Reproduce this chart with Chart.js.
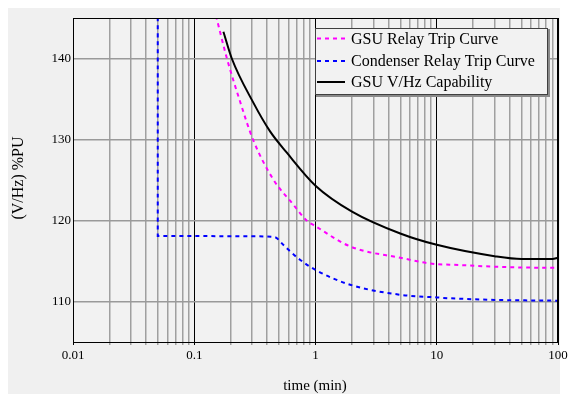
<!DOCTYPE html>
<html>
<head>
<meta charset="utf-8">
<script src="https://cdn.jsdelivr.net/npm/chart.js@4/dist/chart.umd.min.js"></script>
<style>
  html, body { margin: 0; padding: 0; background: #fff; }
  #wrap { width: 571px; height: 394px; }
</style>
</head>
<body>
<div id="wrap"><canvas id="vhzChart" width="571" height="394"></canvas></div>
<script>
// series (time in minutes, V/Hz in %PU)
const gsuRelayTime = [0.151, 0.186, 0.238, 0.305, 0.449, 0.656, 0.845, 1, 1.93, 5, 10, 12.8, 30, 50, 100];
const gsuRelayVhz  = [145.3, 140, 134.75, 130, 125.06, 121.97, 120, 119.3, 116.8, 115.4, 114.6, 114.55, 114.3, 114.2, 114.15];

const condRelayTime = [0.05, 0.05, 0.288, 0.46, 0.542, 0.617, 0.745, 1, 1.93, 5, 10, 12.8, 30, 100];
const condRelayVhz  = [150, 118.1, 118.05, 117.95, 117.0, 116.2, 115.16, 113.9, 112.07, 110.83, 110.5, 110.4, 110.2, 110.1];

const gsuCapTime = [0.174, 0.204, 0.307, 0.422, 0.578, 1, 2, 5, 10, 30, 50, 90, 100];
const gsuCapVhz  = [143.3, 140, 134.55, 131.0, 128.4, 124.3, 121.1, 118.4, 117.0, 115.6, 115.25, 115.25, 115.4];

const seriesLabels = ['GSU Relay Trip Curve', 'Condenser Relay Trip Curve', 'GSU V/Hz Capability'];

const xTickValues = [0.01, 0.1, 1, 10, 100];
const xTickLabels = ['0.01', '0.1', '1', '10', '100'];
const yTickValues = [110, 120, 130, 140];

const SERIF = '"Liberation Serif", "Times New Roman", serif';

function toPoints(xs, ys) {
  return xs.map((x, i) => ({ x: x, y: ys[i] }));
}

function isDecade(v) {
  const l = Math.log10(v);
  return Math.abs(l - Math.round(l)) < 1e-9;
}

// gray page panel + plot background
const panelPlugin = {
  id: 'panel',
  beforeDraw(chart) {
    const c = chart.ctx;
    const a = chart.chartArea;
    c.save();
    c.fillStyle = '#ffffff';
    c.fillRect(0, 0, chart.width, chart.height);
    c.fillStyle = '#f0f0f0';
    c.fillRect(8, 8, 552, chart.height - 8);
    c.fillStyle = '#f2f2f2';
    c.fillRect(a.left, a.top, a.right - a.left, a.bottom - a.top);
    c.restore();
  }
};

// frame, axis titles and the boxed legend inside the plot
const decorPlugin = {
  id: 'decor',
  afterDraw(chart) {
    const c = chart.ctx;
    const a = chart.chartArea;
    c.save();
    c.strokeStyle = '#000';
    c.lineWidth = 1;
    c.strokeRect(Math.round(a.left) + 0.5, Math.round(a.top) + 0.5,
      Math.round(a.right - a.left) - 1, Math.round(a.bottom - a.top));

    c.fillStyle = '#000';
    c.font = '15px ' + SERIF;
    c.textAlign = 'center';
    c.textBaseline = 'middle';
    c.fillText('time (min)', 315, 386);

    c.save();
    c.translate(19, 178);
    c.rotate(-Math.PI / 2);
    c.font = '16px ' + SERIF;
    c.fillText('(V/Hz) %PU', 0, 0);
    c.restore();

    // legend box
    const bx = 315, by = 28, bw = 233, bh = 67;
    c.fillStyle = '#8a8a8a';
    c.fillRect(bx + 1, by + 1, bw + 1, bh + 1);
    c.fillStyle = '#f2f2f2';
    c.fillRect(bx, by, bw, bh);
    c.strokeStyle = '#404040';
    c.strokeRect(bx + 0.5, by + 0.5, bw - 1, bh - 1);

    const rows = [38.5, 61, 82];
    c.font = '16px ' + SERIF;
    c.textAlign = 'left';
    chart.data.datasets.forEach((ds, i) => {
      const y = rows[i];
      c.beginPath();
      c.strokeStyle = ds.borderColor;
      c.lineWidth = 2;
      c.setLineDash(ds.borderDash || []);
      c.moveTo(317, y);
      c.lineTo(345, y);
      c.stroke();
      c.setLineDash([]);
      c.fillStyle = '#000';
      c.fillText(ds.label, 351, y + 1);
    });
    c.restore();
  }
};

new Chart(document.getElementById('vhzChart'), {
  type: 'line',
  data: {
    datasets: [
      {
        label: seriesLabels[0],
        data: toPoints(gsuRelayTime, gsuRelayVhz),
        borderColor: '#ff00ff',
        borderWidth: 2,
        borderDash: [4, 4],
        pointRadius: 0,
        cubicInterpolationMode: 'monotone'
      },
      {
        label: seriesLabels[1],
        data: toPoints(condRelayTime, condRelayVhz),
        borderColor: '#0000ff',
        borderWidth: 2,
        borderDash: [4, 4],
        pointRadius: 0,
        cubicInterpolationMode: 'monotone'
      },
      {
        label: seriesLabels[2],
        data: toPoints(gsuCapTime, gsuCapVhz),
        borderColor: '#000000',
        borderWidth: 2,
        pointRadius: 0,
        cubicInterpolationMode: 'monotone'
      }
    ]
  },
  options: {
    responsive: false,
    animation: false,
    layout: { padding: { left: 8, right: 13, top: 18, bottom: 0 } },
    plugins: {
      legend: { display: false },
      tooltip: { enabled: false }
    },
    scales: {
      x: {
        type: 'logarithmic',
        min: 0.01,
        max: 100,
        afterFit: (s) => { s.height = 52; },
        afterBuildTicks: (s) => {
          const ticks = [];
          xTickValues.forEach((d, i) => {
            ticks.push({ value: d });
            if (i < xTickValues.length - 1) {
              for (let k = 2; k <= 9; k++) ticks.push({ value: d * k });
            }
          });
          s.ticks = ticks;
        },
        ticks: {
          autoSkip: false,
          maxRotation: 0,
          padding: 3,
          color: '#000',
          font: { family: SERIF, size: 13 },
          callback: (v) => {
            const i = xTickValues.findIndex(t => Math.abs(t - v) < v * 1e-6);
            return i >= 0 ? xTickLabels[i] : '';
          }
        },
        grid: {
          color: (ctx) => (ctx.tick && isDecade(ctx.tick.value)) ? '#000' : '#a0a0a0',
          lineWidth: (ctx) => (ctx.tick && isDecade(ctx.tick.value)) ? 1 : 1.5,
          tickLength: 3
        },
        border: { display: true, color: '#000', width: 1 }
      },
      y: {
        type: 'linear',
        min: 105,
        max: 145,
        afterFit: (s) => { s.width = 65; },
        afterBuildTicks: (s) => {
          s.ticks = yTickValues.map(v => ({ value: v }));
        },
        ticks: {
          padding: 2,
          color: '#000',
          font: { family: SERIF, size: 13 }
        },
        grid: {
          color: '#9a9a9a',
          lineWidth: 1.5,
          drawTicks: false
        },
        border: { display: true, color: '#000', width: 1 }
      }
    }
  },
  plugins: [panelPlugin, decorPlugin]
});
</script>
</body>
</html>
